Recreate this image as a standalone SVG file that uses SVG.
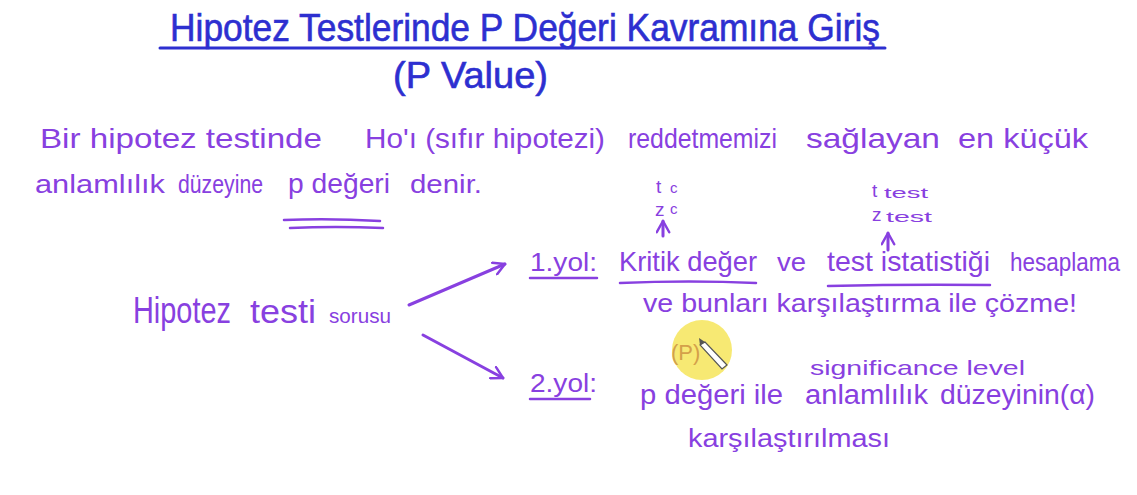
<svg xmlns="http://www.w3.org/2000/svg" width="1137" height="495" viewBox="0 0 1137 495">
<defs>
<style>
.t{font-family:"Liberation Sans","DejaVu Sans",sans-serif;fill:#2d2fd0;}
.p{font-family:"Liberation Sans","DejaVu Sans",sans-serif;fill:#8840e0;}
.ul{stroke:#8840e0;stroke-width:2.5;stroke-linecap:round;fill:none;}
.con{stroke:#8840e0;stroke-width:3;stroke-linecap:round;fill:none;}
</style>
<marker id="ah" viewBox="0 0 12 12" refX="10" refY="6" markerWidth="5" markerHeight="5" orient="auto" markerUnits="strokeWidth">
<path d="M1,1 L10,6 L1,11" fill="none" stroke="#8840e0" stroke-width="2" stroke-linecap="round" stroke-linejoin="round"/>
</marker>
</defs>
<rect width="1137" height="495" fill="#ffffff"/>

<g id="title">
<text class="t" x="170" y="41" font-size="38" textLength="710" lengthAdjust="spacingAndGlyphs" stroke="#2d2fd0" stroke-width="0.6">Hipotez Testlerinde P Değeri Kavramına Giriş</text>
<line x1="160" y1="48" x2="885" y2="48" stroke="#2d2fd0" stroke-width="3" stroke-linecap="round"/>
<text class="t" x="393" y="88" font-size="36" textLength="155" lengthAdjust="spacingAndGlyphs" stroke="#2d2fd0" stroke-width="0.6">(P Value)</text>
</g>

<g id="definition">
<text class="p" x="40" y="148" font-size="28" textLength="282" lengthAdjust="spacingAndGlyphs">Bir hipotez testinde</text>
<text class="p" x="365" y="148" font-size="28" textLength="240" lengthAdjust="spacingAndGlyphs">Ho'ı (sıfır hipotezi)</text>
<text class="p" x="628" y="148" font-size="28" textLength="149" lengthAdjust="spacingAndGlyphs">reddetmemizi</text>
<text class="p" x="806" y="148" font-size="28" textLength="134" lengthAdjust="spacingAndGlyphs">sağlayan</text>
<text class="p" x="958" y="148" font-size="28" textLength="130" lengthAdjust="spacingAndGlyphs">en küçük</text>
<text class="p" x="35" y="193" font-size="26" textLength="130" lengthAdjust="spacingAndGlyphs">anlamlılık</text>
<text class="p" x="178" y="193" font-size="26" textLength="85" lengthAdjust="spacingAndGlyphs">düzeyine</text>
<text class="p" x="288" y="193" font-size="27" textLength="102" lengthAdjust="spacingAndGlyphs">p değeri</text>
<text class="p" x="410" y="193" font-size="26" textLength="72" lengthAdjust="spacingAndGlyphs">denir.</text>
<path class="ul" d="M284,220 Q330,218 380,221"/>
<path class="ul" d="M290,228 Q335,226 383,228"/>
</g>

<g id="crit">
<text class="p" x="656" y="193" font-size="19">t</text>
<text class="p" x="670" y="193" font-size="15">c</text>
<text class="p" x="655" y="216" font-size="19">z</text>
<text class="p" x="670" y="214" font-size="15">c</text>
</g>
<g id="teststat">
<text class="p" x="872" y="197" font-size="19">t</text>
<text class="p" x="884" y="198" font-size="14" textLength="44" lengthAdjust="spacingAndGlyphs">test</text>
<text class="p" x="872" y="221" font-size="19">z</text>
<text class="p" x="886" y="222" font-size="14" textLength="46" lengthAdjust="spacingAndGlyphs">test</text>
</g>

<g id="question">
<text class="p" x="133" y="323" font-size="36" textLength="98" lengthAdjust="spacingAndGlyphs">Hipotez</text>
<text class="p" x="250" y="323" font-size="34" textLength="66" lengthAdjust="spacingAndGlyphs">testi</text>
<text class="p" x="329" y="323" font-size="20" textLength="62" lengthAdjust="spacingAndGlyphs">sorusu</text>
</g>

<g id="way1">
<text class="p" x="530" y="271" font-size="26" textLength="67" lengthAdjust="spacingAndGlyphs">1.yol:</text>
<text class="p" x="619" y="271" font-size="28" textLength="138" lengthAdjust="spacingAndGlyphs">Kritik değer</text>
<text class="p" x="777" y="271" font-size="26" textLength="29" lengthAdjust="spacingAndGlyphs">ve</text>
<text class="p" x="827" y="271" font-size="28" textLength="163" lengthAdjust="spacingAndGlyphs">test istatistiği</text>
<text class="p" x="1010" y="271" font-size="26" textLength="110" lengthAdjust="spacingAndGlyphs">hesaplama</text>
<text class="p" x="643" y="312" font-size="26" textLength="434" lengthAdjust="spacingAndGlyphs">ve bunları karşılaştırma  ile  çözme!</text>
<path class="ul" d="M530,278 L597,278"/>
<path class="ul" d="M620,283 Q690,280 756,283"/>
<path class="ul" d="M828,286 Q910,284 990,285"/>
</g>

<g id="way2">
<text class="p" x="530" y="392" font-size="26" textLength="67" lengthAdjust="spacingAndGlyphs">2.yol:</text>
<path class="ul" d="M530,399 L590,399"/>
<text class="p" x="810" y="375" font-size="21" textLength="215" lengthAdjust="spacingAndGlyphs">significance level</text>
<text class="p" x="640" y="404" font-size="27" textLength="143" lengthAdjust="spacingAndGlyphs">p değeri ile</text>
<text class="p" x="805" y="404" font-size="27" textLength="123" lengthAdjust="spacingAndGlyphs">anlamlılık</text>
<text class="p" x="940" y="404" font-size="27" textLength="155" lengthAdjust="spacingAndGlyphs">düzeyinin(α)</text>
<text class="p" x="688" y="447" font-size="26" textLength="202" lengthAdjust="spacingAndGlyphs">karşılaştırılması</text>
</g>

<g id="connectors">
<line class="con" x1="409" y1="305" x2="505" y2="264" marker-end="url(#ah)"/>
<line class="con" x1="423" y1="335" x2="503" y2="378" marker-end="url(#ah)"/>
<line class="con" x1="663" y1="236" x2="663" y2="221" marker-end="url(#ah)" stroke-width="2"/>
<line class="con" x1="888" y1="250" x2="888" y2="233" marker-end="url(#ah)" stroke-width="2"/>
</g>

<g id="cursor">
<circle cx="702" cy="350" r="30" fill="#f6e55a" opacity="0.85"/>
<text x="671" y="360" font-family="Liberation Sans, sans-serif" font-size="22" fill="#d4a04a">(P)</text>
<path d="M700,345 L705,342 L727,365 L722,369 Z" fill="#ffffff" stroke="#555555" stroke-width="1.2"/>
<path d="M700,345 L705,342 L699,338 Z" fill="#555555"/>
</g>
</svg>
